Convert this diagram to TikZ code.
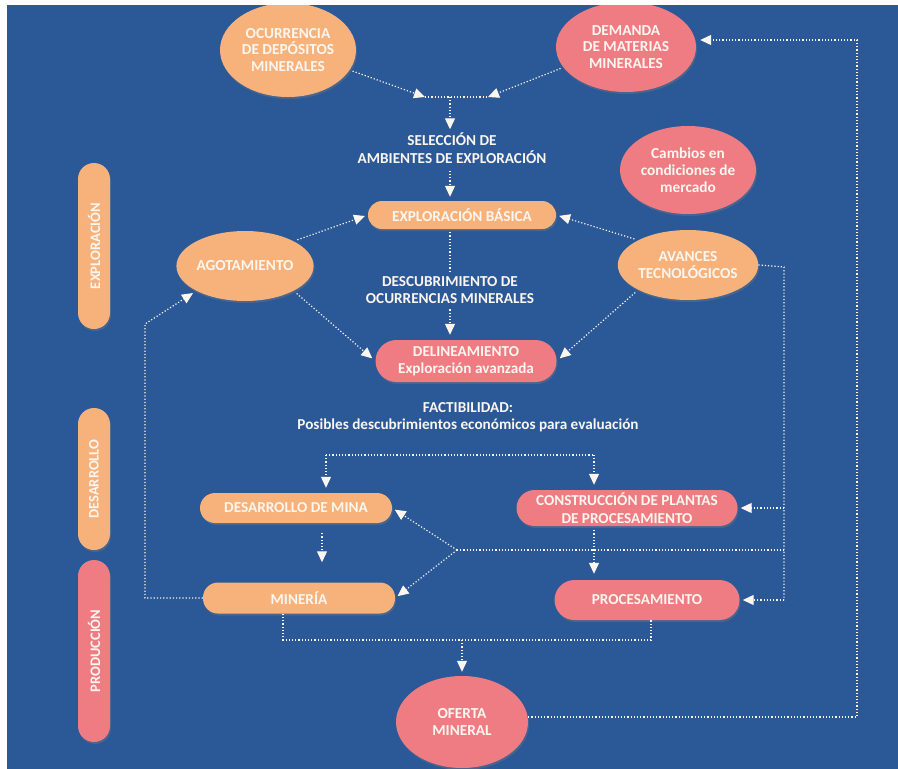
\documentclass[tikz,border=0pt]{standalone}
\usepackage{fontspec}
\setmainfont{Carlito}
\usetikzlibrary{arrows.meta, positioning, shapes.geometric, calc, shadows}
\definecolor{bgblue}{HTML}{2B5896}
\definecolor{peach}{HTML}{F7B27C}
\definecolor{rose}{HTML}{EE7C82}
\definecolor{chalk}{HTML}{FBF6EF}
\tikzset{
  oval/.style={ellipse, fill=peach, text=chalk, align=center, inner sep=0pt,
    minimum width=136pt, minimum height=70pt, font=\bfseries\fontsize{15.3}{16.8}\selectfont,
    drop shadow={shadow xshift=1pt, shadow yshift=-2pt, opacity=0.35}},
  ovalRose/.style={oval, fill=rose},
  pill/.style={rectangle, rounded corners=15pt, fill=peach, text=chalk, align=center,
    minimum width=190pt, minimum height=30pt, inner sep=0pt, font=\bfseries\fontsize{15.2}{17.5}\selectfont,
    drop shadow={shadow xshift=1pt, shadow yshift=-2pt, opacity=0.35}},
  pillRose/.style={pill, fill=rose},
  phase/.style={pill, rotate=90, minimum height=32pt, rounded corners=16pt,
    font=\bfseries\fontsize{14.5}{16}\selectfont},
  label/.style={text=chalk, align=center, font=\bfseries\fontsize{15.2}{17.5}\selectfont},
  flow/.style={dotted, line width=1.2pt, chalk},
  arrow/.style={flow, -{Triangle[length=11pt, width=10pt]}},
}

\begin{document}
\begin{tikzpicture}[x=1pt, y=-1pt]
\useasboundingbox (0,0) rectangle (898,769);
\fill[bgblue] (0,0) rectangle (898,769);

% phases
\node[phase, minimum width=166pt] (fexp) at (94,246) {EXPLORACIÓN};
\node[phase, minimum width=142pt] (fdes) at (94,479) {DESARROLLO};
\node[phase, fill=rose, minimum width=182pt] (fprod) at (94,651) {PRODUCCIÓN};

% top
\node[oval, minimum height=94pt] (ocur) at (288,50) {OCURRENCIA\\DE DEPÓSITOS\\MINERALES};
\node[ovalRose, minimum width=140pt, minimum height=90pt] (dem) at (626,47) {DEMANDA\\DE MATERIAS\\MINERALES};
\coordinate (jl) at (425,97);
\coordinate (jr) at (488,97);
\coordinate (jm) at (450,97);
\node[label] (sel) at (452,148) {SELECCIÓN DE\\AMBIENTES DE EXPLORACIÓN};

% exploracion
\node[pill, minimum width=188pt, minimum height=28pt, rounded corners=14pt] (expl) at (462,215) {EXPLORACIÓN BÁSICA};
\node[oval] (agot) at (245,266) {AGOTAMIENTO};
\node[oval] (avan) at (688,265) {AVANCES\\TECNOLÓGICOS};
\node[ovalRose, minimum height=88pt] (merc) at (688,170) {Cambios en\\condiciones de\\mercado};
\node[label] (desc) at (450,290) {DESCUBRIMIENTO DE\\OCURRENCIAS MINERALES};
\node[pillRose, minimum width=181pt, minimum height=42pt, rounded corners=21pt] (delin) at (466,361) {DELINEAMIENTO\\Exploración avanzada};
\node[label] (fact) at (468,417) {FACTIBILIDAD:\\Posibles descubrimientos económicos para evaluación};

% desarrollo / produccion
\node[pill, minimum width=192pt] (dmina) at (296,508) {DESARROLLO DE MINA};
\node[pillRose, minimum width=221pt, minimum height=36pt, rounded corners=18pt] (cplant) at (627,508) {CONSTRUCCIÓN DE PLANTAS\\DE PROCESAMIENTO};
\node[pill, minimum width=192pt, minimum height=31pt] (miner) at (299,598) {MINERÍA};
\node[pillRose, minimum width=185pt, minimum height=40pt, rounded corners=20pt] (proc) at (647,600) {PROCESAMIENTO};
\node[ovalRose, minimum width=132pt, minimum height=92pt] (ofer) at (462,722) {OFERTA\\MINERAL};

\coordinate (fl) at (326,455);
\coordinate (fr) at (594,455);
\coordinate (hub) at (457,550);
\coordinate (rtop) at (784,267);
\coordinate (rbot) at (784,600);
\coordinate (bl) at (283,640);
\coordinate (br) at (651,640);
\coordinate (fbl) at (857,717);
\coordinate (fbu) at (857,40);

% connectors
\draw[arrow, shorten <=3pt] (ocur.-18) -- (jl);
\draw[arrow, shorten <=3pt] (dem.-162) -- (jr);
\draw[flow] (jl) -- (jr);
\draw[arrow] (jm) -- (sel.north -| jm);
\draw[arrow, shorten <=4pt, shorten >=4pt] (sel.south -| jm) -- (expl.north -| jm);
\draw[arrow, shorten <=4pt, shorten >=3pt] (agot.north east) -- (expl.west);
\draw[arrow, shorten <=4pt, shorten >=3pt] (avan.north west) -- (expl.east);
\draw[arrow, shorten <=4pt, shorten >=4pt] (agot.south east) -- (delin.west);
\draw[arrow, shorten <=4pt, shorten >=4pt] (avan.south west) -- (delin.east);
\draw[flow, shorten <=3pt] (expl.south -| desc) -- (desc.north);
\draw[arrow, shorten <=2pt, shorten >=5pt] (desc.south) -- (delin.north -| desc);

\draw[flow] (fl) -- (fr);
\draw[arrow, shorten >=5pt] (fl) -- (fl |- dmina.north);
\draw[arrow, shorten >=5pt] (fr) -- (fr |- cplant.north);
\draw[arrow, shorten <=10pt, shorten >=20pt] ([xshift=26pt]dmina.south) -- ([xshift=23pt]miner.north);
\draw[arrow, shorten <=4pt, shorten >=6pt] (cplant.south -| fr) -- (proc.north -| fr);

\draw[flow] (hub) -- (hub -| rtop);
\draw[arrow, shorten >=3pt] (hub) -- (dmina.east);
\draw[arrow, shorten >=3pt] (hub) -- (miner.east);
\draw[flow] (avan.east) -- (rtop) -- (rbot);
\draw[arrow, shorten >=3pt] (rtop |- cplant.east) -- (cplant.east);
\draw[arrow, shorten >=3pt] (rbot) -- (proc.east);

\draw[arrow, shorten >=4pt] (miner.west) -- (145,598) -- (145,324) -- (agot.south west);
\draw[flow] (miner.south -| bl) -- (bl) -- (br) -- (proc.south -| br);
\draw[arrow, shorten >=4pt] (ofer.north |- bl) -- (ofer.north);
\draw[arrow, shorten >=4pt] (ofer.east |- fbl) -- (fbl) -- (fbu) -- (dem.east |- fbu);

% white margins
\fill[white] (0,0) rectangle (898,5);
\fill[white] (0,0) rectangle (7,769);
\end{tikzpicture}
\end{document}
